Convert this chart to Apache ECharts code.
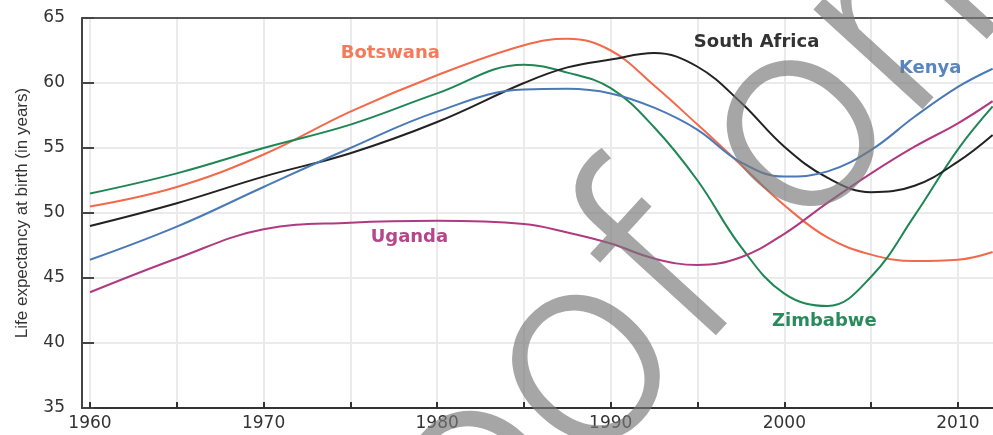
<!DOCTYPE html>
<html>
<head>
<meta charset="utf-8">
<script src="https://cdn.jsdelivr.net/npm/echarts@6/dist/echarts.min.js"></script>
<style>html,body{margin:0;padding:0;background:#fff;}#c{width:993px;height:435px;}</style>
</head>
<body>
<div id="c"></div>
<script>
const years = [1960, 1965, 1970, 1975, 1980, 1985, 1987.5, 1990, 1992.5, 1995, 1997.5, 2000, 2002.5, 2005, 2007.5, 2010, 2012];
const botswana    = [50.5, 52.0, 54.5, 57.8, 60.6, 62.9, 63.4, 62.5, 59.8, 56.8, 53.7, 50.6, 48.1, 46.8, 46.3, 46.4, 47.0];
const zimbabwe    = [51.5, 53.05, 55.0, 56.8, 59.2, 61.4, 60.8, 59.6, 56.6, 52.5, 47.4, 43.8, 42.85, 45.1, 49.8, 54.9, 58.2];
const southAfrica = [49.0, 50.75, 52.8, 54.6, 57.0, 60.0, 61.2, 61.8, 62.3, 61.25, 58.5, 55.1, 52.7, 51.6, 52.1, 53.95, 56.0];
const kenya       = [46.4, 48.95, 52.0, 55.0, 57.8, 59.5, 59.55, 59.2, 58.1, 56.4, 53.9, 52.8, 53.2, 54.85, 57.4, 59.7, 61.1];
const uganda      = [43.9, 46.5, 48.75, 49.25, 49.4, 49.15, 48.5, 47.65, 46.5, 46.0, 46.6, 48.4, 50.8, 53.05, 55.1, 56.9, 58.6];

const seriesNames = ['Botswana', 'Zimbabwe', 'South Africa', 'Kenya', 'Uganda'];
const seriesValues = [botswana, zimbabwe, southAfrica, kenya, uganda];
const lineColors = ['#f26a4b', '#1f8656', '#222222', '#4a7ab5', '#b03a80'];
const labelColors = ['#f47a5c', '#2a8a5e', '#333333', '#5a86c0', '#b5468a'];
// label anchor positions in data space [year, years of life]
const labelAnchors = [[1977.3, 62.3], [2002.3, 41.7], [1998.4, 63.1], [2008.4, 61.1], [1978.4, 48.1]];

const xTicks = [1960, 1965, 1970, 1975, 1980, 1985, 1990, 1995, 2000, 2005, 2010];
const xLabels = [1960, 1970, 1980, 1990, 2000, 2010];
const yAxisTitle = 'Life expectancy at birth (in years)';
const watermarkText = 'proof only';

const chart = echarts.init(document.getElementById('c'), null, {renderer: 'canvas'});

const series = seriesNames.map((name, i) => ({
  name: name,
  type: 'line',
  xAxisIndex: 0,
  data: years.map((y, j) => [y, seriesValues[i][j]]),
  smooth: 0.4,
  symbol: 'none',
  lineStyle: {color: lineColors[i], width: 2},
  z: 3,
  markPoint: {
    symbol: 'circle',
    symbolSize: 0,
    data: [{coord: labelAnchors[i], value: name}],
    label: {
      show: true,
      position: 'inside',
      formatter: name,
      color: labelColors[i],
      fontFamily: 'DejaVu Sans',
      fontWeight: 'bold',
      fontSize: 18
    }
  }
}));

chart.setOption({
  animation: false,
  backgroundColor: '#fff',
  grid: {left: 82, top: 18, right: 0, bottom: 27},
  xAxis: [{
    type: 'value',
    min: 1959.54,
    max: 2012.02,
    axisLine: {show: true, onZero: false, lineStyle: {color: '#333', width: 2}},
    axisTick: {show: true, inside: true, length: 6, customValues: xTicks, lineStyle: {color: '#333', width: 2}},
    axisLabel: {
      show: true, customValues: xLabels, margin: 7,
      color: '#333', fontFamily: 'DejaVu Sans', fontSize: 17,
      formatter: v => String(v)
    },
    splitLine: {show: true, lineStyle: {color: '#ebebeb', width: 2}}
  }, {
    type: 'value',
    position: 'top',
    min: 1959.54,
    max: 2012.02,
    axisLine: {show: true, onZero: false, lineStyle: {color: '#555', width: 2}},
    axisTick: {show: false},
    axisLabel: {show: false},
    splitLine: {show: false}
  }],
  yAxis: {
    type: 'value',
    min: 35,
    max: 65,
    interval: 5,
    name: yAxisTitle,
    nameLocation: 'middle',
    nameRotate: 90,
    nameGap: 51,
    nameTextStyle: {color: '#333', fontFamily: 'Liberation Sans Narrow, Liberation Sans, sans-serif', fontSize: 17},
    axisLine: {show: true, lineStyle: {color: '#444', width: 2}},
    axisTick: {show: true, inside: true, length: 12, lineStyle: {color: '#444', width: 2}},
    axisLabel: {color: '#333', fontFamily: 'DejaVu Sans', fontSize: 17, margin: 17},
    splitLine: {show: true, lineStyle: {color: '#ebebeb', width: 2}}
  },
  graphic: [{
    type: 'text',
    x: 678,
    y: 273,
    rotation: 0.83,
    z: 100,
    silent: true,
    style: {
      text: watermarkText,
      fontFamily: 'Roboto',
      fontWeight: 300,
      fontSize: 280,
      fill: 'rgba(120,120,120,0.66)',
      textAlign: 'center',
      textVerticalAlign: 'middle'
    }
  }],
  series: series
});
</script>
</body>
</html>
